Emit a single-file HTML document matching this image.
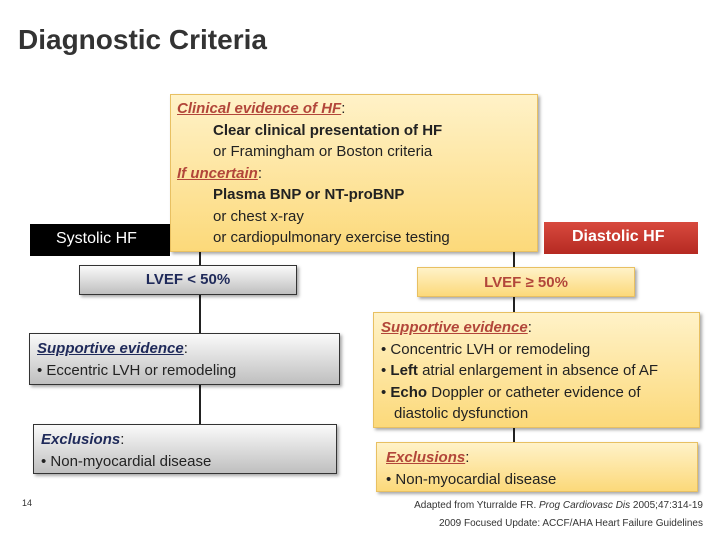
<!DOCTYPE html>
<html><head><style>
body{margin:0;width:720px;height:540px;background:#fff;position:relative;overflow:hidden;font-family:"Liberation Sans",sans-serif;}
.a{position:absolute;box-sizing:border-box;}
.y{background:linear-gradient(#fff2c8,#fcd97a);border:1px solid #e8c062;box-shadow:2px 2px 3px rgba(0,0,0,.35);}
.g{background:linear-gradient(#fafafa,#bfbfbf);border:1.5px solid #333;box-shadow:2px 2px 3px rgba(0,0,0,.35);}
.l{position:absolute;background:#222;width:2px;}
.h{color:#b2463a;font-style:italic;text-decoration:underline;font-weight:bold;}
.hb{color:#1f2a5a;font-style:italic;text-decoration:underline;font-weight:bold;}
.t{font-size:15px;line-height:21.5px;color:#222;}
</style></head><body>
<div class="a" style="left:18px;top:24px;font-size:28px;font-weight:bold;color:#333;">Diagnostic Criteria</div>

<div class="l" style="left:199px;top:252px;height:14px"></div>
<div class="l" style="left:199px;top:295px;height:40px"></div>
<div class="l" style="left:199px;top:385px;height:40px"></div>
<div class="l" style="left:513px;top:252px;height:16px"></div>
<div class="l" style="left:513px;top:297px;height:16px"></div>
<div class="l" style="left:513px;top:428px;height:15px"></div>

<div class="a" style="left:30px;top:224px;width:140px;height:32px;background:#000;color:#fff;font-size:16px;padding:6px 0 0 26px;">Systolic HF</div>
<div class="a" style="left:544px;top:222px;width:154px;height:32px;background:linear-gradient(#d84a3e,#b52a22);color:#fff;font-size:16px;font-weight:bold;padding:6px 0 0 28px;">Diastolic HF</div>

<div class="a y t" style="left:170px;top:94px;width:368px;height:158px;padding:3px 6px;">
<div><span class="h">Clinical evidence of HF</span>:</div>
<div style="padding-left:36px;font-weight:bold">Clear clinical presentation of HF</div>
<div style="padding-left:36px">or Framingham or Boston criteria</div>
<div><span class="h">If uncertain</span>:</div>
<div style="padding-left:36px;font-weight:bold">Plasma BNP or NT-proBNP</div>
<div style="padding-left:36px">or chest x-ray</div>
<div style="padding-left:36px">or cardiopulmonary exercise testing</div>
</div>

<div class="a g t" style="left:79px;top:265px;width:218px;height:30px;text-align:center;padding-top:3px;font-weight:bold;color:#1f2a5a;">LVEF &lt; 50%</div>
<div class="a y t" style="left:417px;top:267px;width:218px;height:30px;text-align:center;padding-top:4px;color:#b2463a;font-weight:bold;">LVEF ≥ 50%</div>

<div class="a g t" style="left:29px;top:333px;width:311px;height:52px;padding:4px 7px;">
<div><span class="hb">Supportive evidence</span>:</div>
<div>• Eccentric LVH or remodeling</div></div>

<div class="a g t" style="left:33px;top:424px;width:304px;height:50px;padding:4px 7px;">
<div><span class="hb" style="text-decoration:none">Exclusions</span>:</div>
<div>• Non-myocardial disease</div></div>

<div class="a y t" style="left:373px;top:312px;width:327px;height:116px;padding:4px 7px;">
<div><span class="h">Supportive evidence</span>:</div>
<div>• Concentric LVH or remodeling</div>
<div>• <b>Left</b> atrial enlargement in absence of AF</div>
<div>• <b>Echo</b> Doppler or catheter evidence of</div>
<div style="padding-left:13px">diastolic dysfunction</div></div>

<div class="a y t" style="left:376px;top:442px;width:322px;height:50px;padding:4px 9px;">
<div><span class="h">Exclusions</span>:</div>
<div>• Non-myocardial disease</div></div>

<div class="a" style="left:22px;top:498px;font-size:9px;color:#333">14</div>
<div class="a" style="right:17px;top:500px;font-size:10px;color:#333">Adapted from Yturralde FR. <i>Prog Cardiovasc Dis</i> 2005;47:314-19</div>
<div class="a" style="right:17px;top:518px;font-size:10px;color:#333">2009 Focused Update: ACCF/AHA Heart Failure Guidelines</div>
</body></html>
